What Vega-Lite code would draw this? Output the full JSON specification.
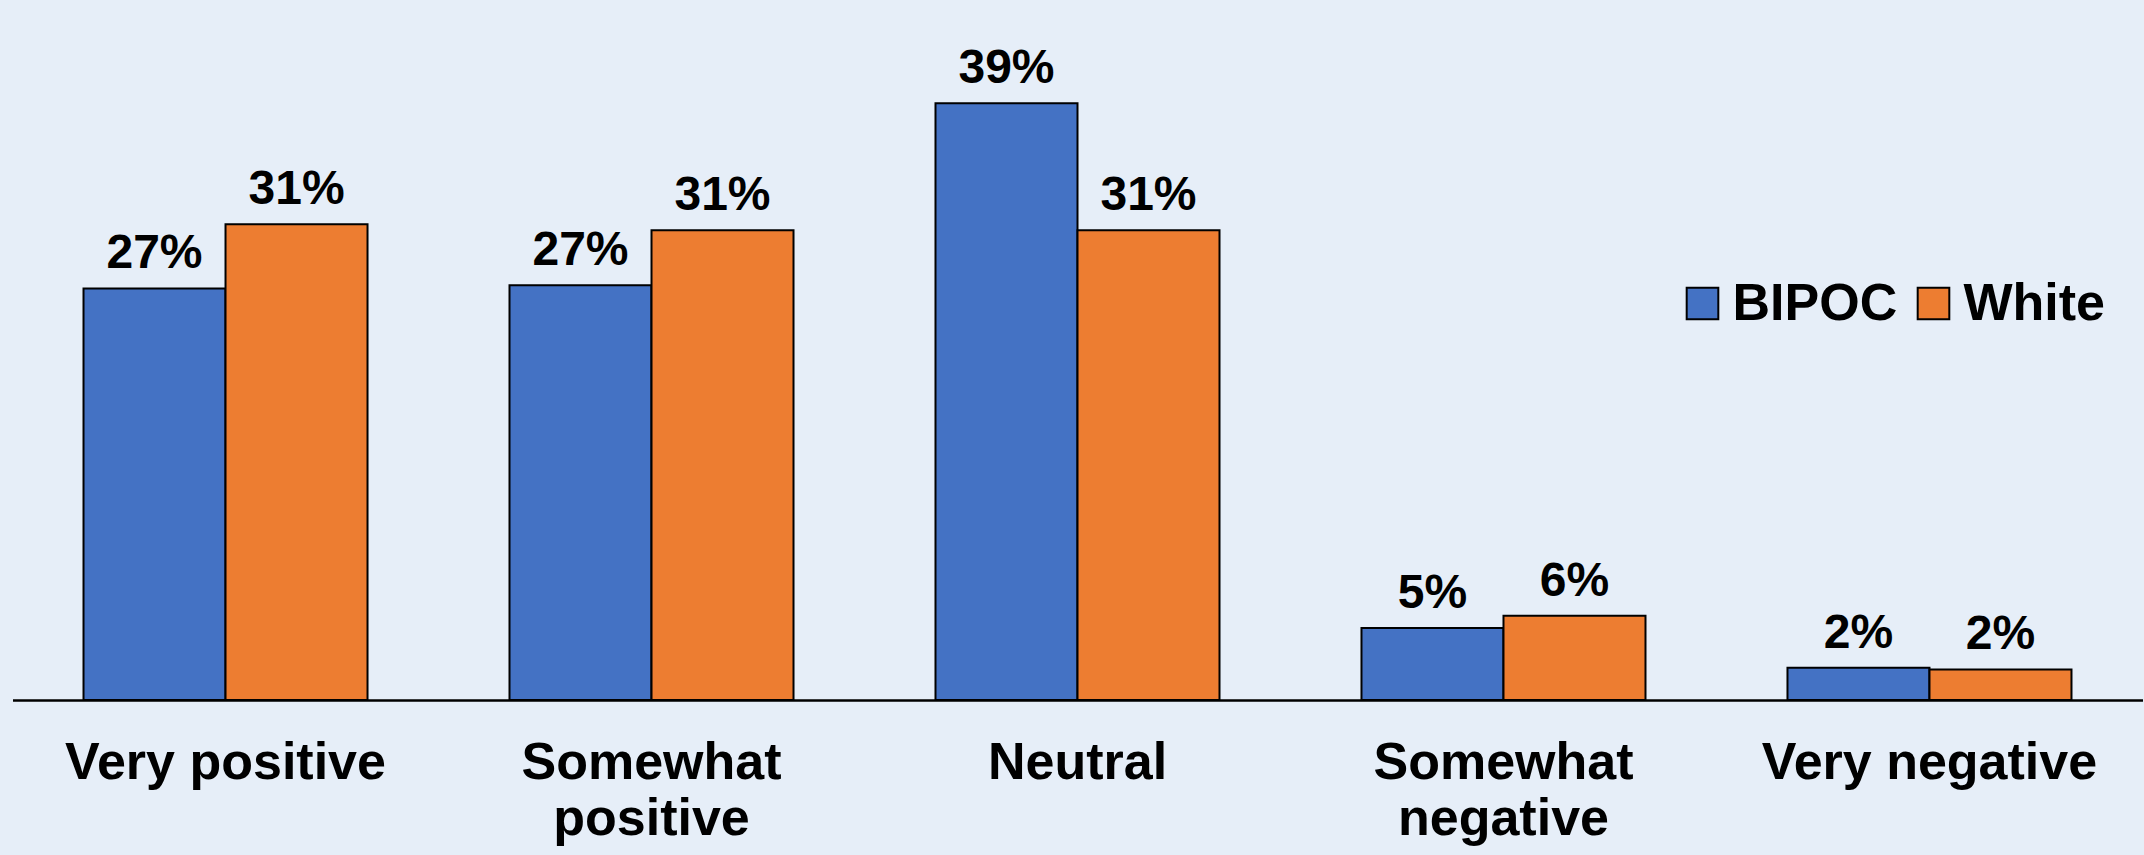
{
  "$schema": "https://vega.github.io/schema/vega-lite/v6.json",
  "autosize": {"type": "none"},
  "width": 2130,
  "height": 688.5,
  "padding": {"left": 12.5, "top": 11.5, "right": 1.5, "bottom": 155},
  "background": "#e6eef8",
  "config": {
    "view": {"stroke": null},
    "font": "Liberation Sans"
  },
  "data": {
    "values": [
      {"category": "Very positive", "group": "BIPOC", "value": 26.9, "label": "27%"},
      {"category": "Very positive", "group": "White", "value": 31.1, "label": "31%"},
      {"category": "Somewhat positive", "group": "BIPOC", "value": 27.1, "label": "27%"},
      {"category": "Somewhat positive", "group": "White", "value": 30.7, "label": "31%"},
      {"category": "Neutral", "group": "BIPOC", "value": 39.0, "label": "39%"},
      {"category": "Neutral", "group": "White", "value": 30.7, "label": "31%"},
      {"category": "Somewhat negative", "group": "BIPOC", "value": 4.7, "label": "5%"},
      {"category": "Somewhat negative", "group": "White", "value": 5.5, "label": "6%"},
      {"category": "Very negative", "group": "BIPOC", "value": 2.1, "label": "2%"},
      {"category": "Very negative", "group": "White", "value": 2.0, "label": "2%"}
    ]
  },
  "encoding": {
    "x": {
      "field": "category",
      "type": "nominal",
      "sort": null,
      "scale": {"paddingInner": 0.3333, "paddingOuter": 0.1667},
      "axis": {
        "title": null,
        "ticks": false,
        "domainColor": "#000000",
        "domainWidth": 2.5,
        "labelAngle": 0,
        "labelFont": "Liberation Sans",
        "labelFontWeight": "bold",
        "labelFontSize": 52,
        "labelColor": "#000000",
        "labelLimit": 0,
        "labelPadding": 37,
        "labelLineHeight": 56,
        "labelBaseline": "top",
        "labelExpr": "indexof(datum.label, 'Somewhat') == 0 ? split(datum.label, ' ') : datum.label"
      }
    },
    "xOffset": {"field": "group", "type": "nominal", "scale": {"paddingInner": 0, "paddingOuter": 0}},
    "y": {
      "field": "value",
      "type": "quantitative",
      "scale": {"domain": [0, 45], "nice": false, "zero": true},
      "axis": null
    }
  },
  "layer": [
    {
      "mark": {"type": "bar", "stroke": "#000000", "strokeWidth": 2},
      "encoding": {
        "color": {
          "field": "group",
          "type": "nominal",
          "scale": {"domain": ["BIPOC", "White"], "range": ["#4472C4", "#ED7D31"]},
          "legend": {
            "title": null,
            "orient": "none",
            "direction": "horizontal",
            "legendX": 1664,
            "legendY": 266,
            "symbolType": "square",
            "symbolSize": 1000,
            "symbolStrokeColor": "#000000",
            "symbolStrokeWidth": 2,
            "symbolOpacity": 1,
            "labelFont": "Liberation Sans",
            "labelFontWeight": "bold",
            "labelFontSize": 52,
            "labelColor": "#000000",
            "labelOffset": 4,
            "labelLimit": 0,
            "columnPadding": 10
          }
        }
      }
    },
    {
      "mark": {
        "type": "text",
        "baseline": "alphabetic",
        "dy": -20,
        "font": "Liberation Sans",
        "fontWeight": "bold",
        "fontSize": 48,
        "color": "#000000"
      },
      "encoding": {
        "text": {"field": "label", "type": "nominal"}
      }
    }
  ]
}
